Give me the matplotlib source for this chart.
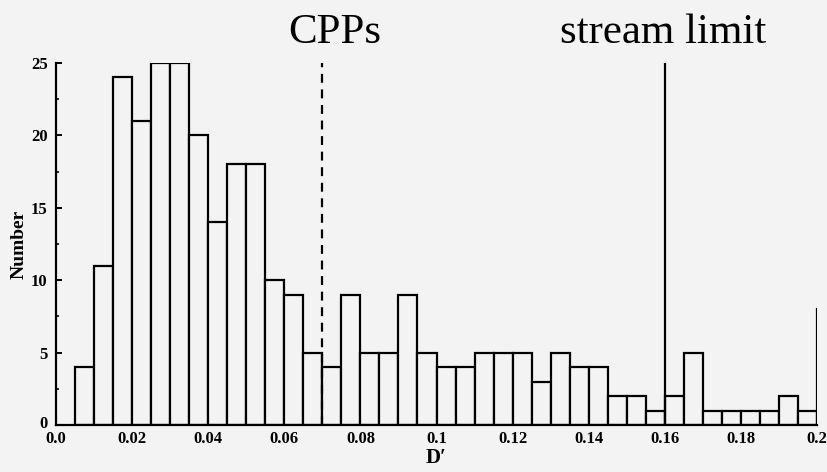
import numpy as np
import matplotlib
matplotlib.use('Agg')
import matplotlib.pyplot as plt
import matplotlib.transforms as mtransforms

# histogram of D' values, bin width 0.005
bin_start = 0.005
bin_width = 0.005
counts = [4, 11, 24, 21, 25, 25, 20, 14, 18, 18,
          10, 9, 5, 4, 9, 5, 5, 9, 5, 4,
          4, 5, 5, 5, 3, 5, 4, 4, 2, 2,
          1, 2, 5, 1, 1, 1, 1, 2, 1]

cpp_x = 0.07          # dashed marker
stream_x = 0.16       # solid marker
end_x, end_h = 0.2, 8  # short line at right edge

xticks = [0.0, 0.02, 0.04, 0.06, 0.08, 0.1, 0.12, 0.14, 0.16, 0.18, 0.2]
xticklabels = ['0.0', '0.02', '0.04', '0.06', '0.08', '0.1', '0.12', '0.14', '0.16', '0.18', '0.2']
yticks = [0, 5, 10, 15, 20, 25]

plt.rcParams['font.family'] = ['Liberation Serif', 'DejaVu Serif']
bg = '#f3f3f3'

fig = plt.figure(figsize=(8.28, 4.72), dpi=100, facecolor=bg)
ax = fig.add_axes([56/828, 47/472, 761/828, 362/472])
ax.set_facecolor(bg)

lefts = bin_start + bin_width*np.arange(len(counts))
ax.bar(lefts, counts, width=bin_width, align='edge', facecolor=bg,
       edgecolor='black', linewidth=1.6)

ax.plot([cpp_x, cpp_x], [0, 25], color='black', lw=1.6, ls=(0, (4, 3)))
ax.plot([stream_x, stream_x], [0, 25], color='black', lw=1.6)
ax.plot([end_x, end_x], [0, end_h], color='black', lw=1.6)

ax.set_xlim(0, 0.2)
ax.set_ylim(0, 25)
for s in ['top', 'right']:
    ax.spines[s].set_visible(False)
for s in ['left', 'bottom']:
    ax.spines[s].set_linewidth(1.6)

ax.set_xticks(xticks)
ax.set_xticklabels(xticklabels, fontweight='bold', fontsize=12)
ax.set_yticks(yticks)
ax.set_yticklabels([str(v) for v in yticks], fontweight='bold', fontsize=12)
ax.set_yticks([2.5, 7.5, 12.5, 17.5, 22.5], minor=True)
ax.tick_params(axis='x', length=0, pad=4)
ax.tick_params(axis='y', which='major', direction='in', length=4, width=1.4, pad=6)
ax.tick_params(axis='y', which='minor', direction='in', length=2, width=1.2)
# nudge the zero label up a couple of points
zero = ax.get_yticklabels()[0]
zero.set_transform(zero.get_transform() +
                   mtransforms.ScaledTranslation(0, 2.5/72, fig.dpi_scale_trans))

ax.set_xlabel('D\u2032', fontsize=15, fontweight='bold', labelpad=1)
ax.set_ylabel('Number', fontsize=14, fontweight='bold', labelpad=2)

fig.text(335/828, 1 - 43/472, 'CPPs', fontsize=31, ha='center', va='baseline')
fig.text(663/828, 1 - 43/472, 'stream limit', fontsize=31, ha='center', va='baseline')

fig.savefig('out.png', dpi=100, facecolor=bg)
